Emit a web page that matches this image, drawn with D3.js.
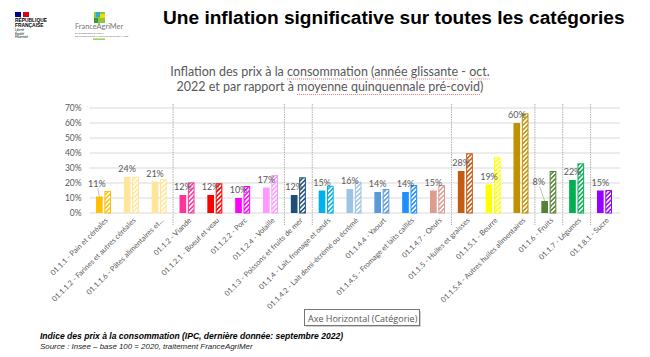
<!DOCTYPE html>
<html><head><meta charset="utf-8">
<script src="https://cdn.jsdelivr.net/npm/d3@7"></script>
<style>body{margin:0;background:#fff;} svg{display:block;}</style>
</head><body>
<svg id="c" width="650" height="357"></svg>
<script>
// ---------- DATA ----------
const categories = [
  "01.1.1 - Pain et céréales",
  "01.1.1.2 - Farines et autres céréales",
  "01.1.1.6 - Pâtes alimentaires et...",
  "01.1.2 - Viande",
  "01.1.2.1 - Boeuf et veau",
  "01.1.2.2 - Porc",
  "01.1.2.4 - Volaille",
  "01.1.3 - Poissons et fruits de mer",
  "01.1.4 - Lait, fromage et oeufs",
  "01.1.4.2 - Lait demi-écrémé ou écrémé",
  "01.1.4.4 - Yaourt",
  "01.1.4.5 - Fromage et laits caillés",
  "01.1.4.7 - Oeufs",
  "01.1.5 - Huiles et graisses",
  "01.1.5.1 - Beurre",
  "01.1.5.4 - Autres huiles alimentaires",
  "01.1.6 - Fruits",
  "01.1.7 - Légumes",
  "01.1.8.1 - Sucre"
];
// series 1: year-on-year inflation (oct. 2022), series 2: vs pre-covid 5-year average
const yearOnYear = [0.11,0.24,0.21,0.12,0.12,0.10,0.17,0.12,0.15,0.16,0.14,0.14,0.15,0.28,0.19,0.60,0.08,0.22,0.15];
const vsFiveYearAvg = [0.147,0.242,0.227,0.204,0.198,0.18,0.253,0.238,0.182,0.209,0.16,0.187,0.187,0.398,0.371,0.664,0.28,0.331,0.153];
const catColors = ["#FFC000","#FFE699","#FFE699","#FF3399","#FF0000","#FF00FF","#FF99FF","#1F4E79","#00B0F0","#9DC3E6","#5B9BD5","#1E90FF","#DA9D90","#C55A11","#FFFF00","#BF9000","#548235","#00B050","#9900FF"];
const groupEnds = [3,7,8,13,16,17,18]; // category groups (multi-level axis separators)
const yTickValues = [0,0.1,0.2,0.3,0.4,0.5,0.6,0.7];

// ---------- CHART ----------
const svg = d3.select("#c");
const gray = "#595959";
const x = d3.scaleBand().domain(d3.range(categories.length)).range([89.6, 618.4]).padding(0);
const xs = d3.scaleBand().domain([0,1]).range([-7.5, 7.5]).paddingInner(0.2);
const y = d3.scaleLinear().domain([0, 0.7]).range([213, 108]);
const pct = d3.format(".0%");

// patterns
const defs = svg.append("defs");
catColors.forEach((c,i)=>{
  const p = defs.append("pattern").attr("id","h"+i).attr("patternUnits","userSpaceOnUse")
    .attr("width",3.2).attr("height",3.2).attr("patternTransform","rotate(45)");
  p.append("rect").attr("width",3.2).attr("height",3.2).attr("fill","#fff");
  p.append("rect").attr("width",1.5).attr("height",3.2).attr("fill",c);
});

// gridlines
svg.append("g").selectAll("line").data(yTickValues).join("line")
  .attr("x1",89.6).attr("x2",620).attr("y1",d=>y(d)).attr("y2",d=>y(d))
  .attr("stroke","#d9d9d9").attr("stroke-width",1);

// y axis labels
const yAxis = d3.axisLeft(y).tickValues(yTickValues).tickFormat(pct).tickSize(0).tickPadding(8);
const gy = svg.append("g").attr("transform","translate(89.6,0)").call(yAxis);
gy.select(".domain").remove();
gy.selectAll("text").attr("fill",gray).style("font-family","Lato").style("font-size","8.5px");

// group separators
svg.append("g").selectAll("line").data(groupEnds).join("line")
  .attr("x1",d=>x(d)).attr("x2",d=>x(d)).attr("y1",104).attr("y2",225)
  .attr("stroke","#b0b0b0").attr("stroke-width",1).attr("stroke-dasharray","1.5,1");

// bars
const rows = categories.map((c,i)=>({i, v:[yearOnYear[i], vsFiveYearAvg[i]]}));
const gb = svg.append("g");
rows.forEach(r=>{
  const cx = x(r.i) + x.bandwidth()/2;
  gb.append("rect").attr("x",cx+xs(0)).attr("width",xs.bandwidth())
    .attr("y",y(r.v[0])).attr("height",y(0)-y(r.v[0])).attr("fill",catColors[r.i]);
  gb.append("rect").attr("x",cx+xs(1)+0.5).attr("width",xs.bandwidth()-1)
    .attr("y",y(r.v[1])+0.5).attr("height",y(0)-y(r.v[1])-0.5)
    .attr("fill","url(#h"+r.i+")").attr("stroke",catColors[r.i]).attr("stroke-width",1);
});

// data labels (series 1)
const labelNudge = {0:[-2.5,-5], 16:[-6,-11.5]};
rows.forEach(r=>{
  const bx = x(r.i) + x.bandwidth()/2 + xs(0) + xs.bandwidth()/2;
  const n = labelNudge[r.i] || [0,0];
  const ly = y(r.v[0]) - 5 + n[1];
  if (labelNudge[r.i]) {
    svg.append("line").attr("x1",bx+n[0]+1).attr("y1",ly+2).attr("x2",bx).attr("y2",y(r.v[0]))
      .attr("stroke","#a6a6a6").attr("stroke-width",0.7);
  }
  svg.append("text").attr("x",bx+n[0]).attr("y",ly).attr("text-anchor","middle")
    .attr("fill",gray).style("font-family","Lato").style("font-size","9px").text(pct(r.v[0]));
});

// x labels
svg.append("g").selectAll("text").data(categories).join("text")
  .attr("transform",(d,i)=>`translate(${x(i)+x.bandwidth()/2+3},219) rotate(-45)`)
  .attr("text-anchor","end").attr("dy","0.35em")
  .attr("fill",gray).style("font-family","Lato").style("font-size","7.4px").text(d=>d);

// chart title
const tlines = [
  [["Inflation des prix à la ",0],["consommation",1],[" ",0],["(année glissante",1],[" - ",0],["oct.",1]],
  [["2022 et par rapport à ",0],["moyenne quinquennale pré-covid",1],[")",0]]
];
tlines.forEach((ln,k)=>{
  const by = 75.5+k*15.5;
  const t = svg.append("text").attr("x",330).attr("y",by).attr("text-anchor","middle")
    .attr("fill",gray).style("font-family","Lato").style("font-size","12.5px");
  const spans = ln.map(s=>{ const sp=t.append("tspan").text(s[0]); return [sp,s[1]]; });
  spans.forEach(([sp,u])=>{
    if(!u) return;
    const b = sp.node().getBBox();
    svg.append("line").attr("x1",b.x).attr("x2",b.x+b.width).attr("y1",by+3.5).attr("y2",by+3.5)
      .attr("stroke","#e87a7a").attr("stroke-width",1.2).attr("stroke-dasharray","1,1");
  });
});

// main title
svg.append("text").attr("x",163).attr("y",24).attr("fill","#000")
  .style("font-family","Liberation Sans, Arial").style("font-weight","bold").style("font-size","19.1px")
  .text("Une inflation significative sur toutes les catégories");

// tooltip-like axis box
svg.append("rect").attr("x",306).attr("y",311).attr("width",115).attr("height",16).attr("fill","#d0d0d0");
svg.append("rect").attr("x",304.5).attr("y",309.5).attr("width",115).attr("height",16).attr("fill","#fff").attr("stroke","#767676");
svg.append("text").attr("x",308).attr("y",321.5).attr("fill","#575757")
  .style("font-family","Open Sans").style("font-size","9px").text("Axe Horizontal (Catégorie)");

// footer
svg.append("text").attr("x",40).attr("y",339).attr("fill","#000")
  .style("font-family","Liberation Sans, Arial").style("font-weight","bold").style("font-style","italic").style("font-size","8.55px")
  .text("Indice des prix à la consommation (IPC, dernière donnée: septembre 2022)");
svg.append("text").attr("x",40).attr("y",349).attr("fill","#222")
  .style("font-family","Liberation Sans, Arial").style("font-style","italic").style("font-size","7.9px")
  .text("Source : Insee – base 100 = 2020, traitement FranceAgriMer");

// logos
const lg = svg.append("g");
lg.append("rect").attr("x",15).attr("y",12).attr("width",6).attr("height",5).attr("fill","#000091");
lg.append("rect").attr("x",21).attr("y",12).attr("width",2).attr("height",5).attr("fill","#fff");
lg.append("rect").attr("x",23).attr("y",12).attr("width",6).attr("height",5).attr("fill","#E1000F");
[["RÉPUBLIQUE",21.8],["FRANÇAISE",26.6]].forEach(([t,yy])=>lg.append("text").attr("x",15).attr("y",yy)
  .style("font-family","Liberation Sans").style("font-weight","bold").style("font-size","4.9px").attr("fill","#000").text(t));
[["Liberté",31],["Égalité",34.5],["Fraternité",38]].forEach(([t,yy])=>lg.append("text").attr("x",15).attr("y",yy)
  .style("font-family","Liberation Sans").style("font-style","italic").style("font-size","3px").attr("fill","#000").text(t));
// FranceAgriMer
lg.append("rect").attr("x",94).attr("y",12).attr("width",11).attr("height",11).attr("fill","#8DC63F");
lg.append("rect").attr("x",96).attr("y",12).attr("width",4).attr("height",5).attr("fill","#29ABE2");
lg.append("rect").attr("x",100).attr("y",14).attr("width",5).attr("height",4).attr("fill","#FFD400");
lg.append("rect").attr("x",94).attr("y",18).attr("width",4).attr("height",5).attr("fill","#3A9A3A");
lg.append("text").attr("x",75).attr("y",29).style("font-family","Lato").style("font-size","7.4px").attr("fill","#777").text("FranceAgriMer");
lg.append("text").attr("x",75).attr("y",34).style("font-family","Liberation Sans").style("font-size","2.2px").attr("fill","#666").text("ÉTABLISSEMENT NATIONAL");
lg.append("text").attr("x",75).attr("y",36.5).style("font-family","Liberation Sans").style("font-size","2.2px").attr("fill","#666").text("DES PRODUITS DE L'AGRICULTURE ET DE LA MER");
lg.append("rect").attr("x",93).attr("y",38.5).attr("width",12).attr("height",1.3).attr("fill","#8DC63F");
</script>
</body></html>
